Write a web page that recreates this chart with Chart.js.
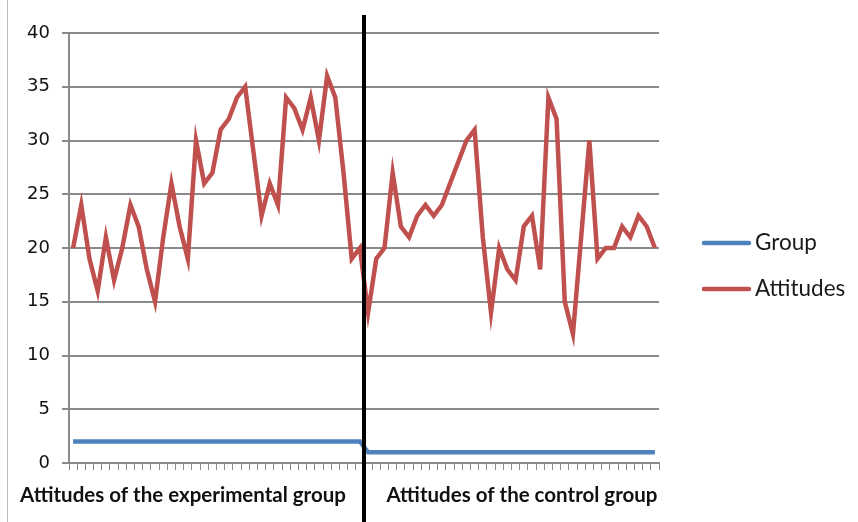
<!DOCTYPE html>
<html>
<head>
<meta charset="utf-8">
<script src="https://cdn.jsdelivr.net/npm/chart.js@4.4.1/dist/chart.umd.min.js"></script>
<style>
html, body { margin: 0; padding: 0; background: #fff; }
#wrap { width: 858px; height: 522px; position: relative; }
</style>
</head>
<body>
<div id="wrap"><canvas id="my-Attitudes-Chart" width="858" height="522"></canvas></div>
<script>
// attitude scores, one per student
const experimentalScores = [20, 24, 19, 16, 21, 17, 20, 24, 22, 18, 15, 21, 26, 22, 19, 30, 26, 27,
    31, 32, 34, 35, 29, 23, 26, 24, 34, 33, 31, 34, 30, 36, 34, 27, 19, 20];
const controlScores = [14, 19, 20, 27, 22, 21, 23, 24, 23, 24, 26, 28, 30, 31, 21, 14, 20, 18,
    17, 22, 23, 18, 34, 32, 15, 12, 21, 30, 19, 20, 20, 22, 21, 23, 22, 20];
const groupCodes = [2, 1]; // experimental = 2, control = 1
const groupTitles = ['Attitudes of the experimental group', 'Attitudes of the control group'];
const seriesNames = ['Group', 'Attitudes'];
const yTicks = [0, 5, 10, 15, 20, 25, 30, 35, 40];

const attitudes = experimentalScores.concat(controlScores);
const groupValues = experimentalScores.map(() => groupCodes[0]).concat(controlScores.map(() => groupCodes[1]));
const categories = attitudes.map((_, i) => String(i + 1));

const colors = {
    group: '#4f81bd',   // biru
    attitudes: '#c0504d' // merah
};

// garis pemisah, judul kelompok di bawah, legenda di kanan
const extrasPlugin = {
    id: 'extras',
    afterDraw(chart) {
        const ctx = chart.ctx;
        const x = chart.scales.x;
        const area = chart.chartArea;
        const nExp = experimentalScores.length;
        const sepX = (x.getPixelForValue(nExp - 1) + x.getPixelForValue(nExp)) / 2;

        ctx.save();
        // border kiri
        ctx.strokeStyle = '#bdbdbd';
        ctx.lineWidth = 1;
        ctx.beginPath();
        ctx.moveTo(7.5, 0);
        ctx.lineTo(7.5, 522);
        ctx.stroke();

        // judul kelompok
        ctx.fillStyle = '#111';
        ctx.font = 'bold 20.5px Lato';
        ctx.textAlign = 'center';
        ctx.textBaseline = 'middle';
        const expMid = (area.left - 51 + sepX - 16) / 2;
        const ctrlMid = (sepX + 23 + area.right - 2) / 2;
        ctx.fillText(groupTitles[0], expMid, 495);
        ctx.fillText(groupTitles[1], ctrlMid, 495);

        // garis hitam pemisah
        ctx.strokeStyle = '#000';
        ctx.lineWidth = 4;
        ctx.beginPath();
        ctx.moveTo(sepX, 15);
        ctx.lineTo(sepX, 522);
        ctx.stroke();

        // legenda
        const legendColors = [colors.group, colors.attitudes];
        const legendY = [243, 289];
        ctx.font = '22.5px Lato';
        ctx.textAlign = 'left';
        ctx.lineCap = 'round';
        seriesNames.forEach((name, i) => {
            ctx.strokeStyle = legendColors[i];
            ctx.lineWidth = 4.5;
            ctx.beginPath();
            ctx.moveTo(704, legendY[i]);
            ctx.lineTo(749, legendY[i]);
            ctx.stroke();
            ctx.fillStyle = '#1a1a1a';
            ctx.fillText(name, 755, legendY[i]);
        });
        ctx.restore();
    }
};

const ctx = document.getElementById('my-Attitudes-Chart').getContext('2d');
new Chart(ctx, {
    type: 'line',
    data: {
        labels: categories,
        datasets: [{
            label: seriesNames[0],
            data: groupValues,
            borderColor: colors.group,
            backgroundColor: colors.group,
            borderWidth: 4.5,
            pointRadius: 0,
            tension: 0
        }, {
            label: seriesNames[1],
            data: attitudes,
            borderColor: colors.attitudes,
            backgroundColor: colors.attitudes,
            borderWidth: 4.5,
            pointRadius: 0,
            tension: 0
        }]
    },
    options: {
        responsive: false,
        animation: false,
        devicePixelRatio: 1,
        layout: {
            padding: { left: 7, right: 199, top: 33, bottom: 0 }
        },
        plugins: {
            legend: { display: false },
            tooltip: { enabled: false }
        },
        scales: {
            x: {
                type: 'category',
                offset: true,
                grid: {
                    offset: true,
                    drawOnChartArea: false,
                    drawTicks: true,
                    tickLength: 7,
                    color: '#8a8a8a',
                    lineWidth: 1
                },
                border: { color: '#8a8a8a', width: 2 },
                ticks: { display: false, autoSkip: false },
                afterFit: (s) => { s.height = 59; }
            },
            y: {
                min: 0,
                max: 40,
                afterBuildTicks: (s) => { s.ticks = yTicks.map(v => ({ value: v })); },
                ticks: {
                    color: '#111',
                    font: { family: 'DejaVu Sans', size: 18 },
                    padding: 12
                },
                grid: {
                    color: '#8a8a8a',
                    lineWidth: 2,
                    tickLength: 7
                },
                border: { color: '#8a8a8a', width: 2 },
                afterFit: (s) => { s.width = 62; }
            }
        }
    },
    plugins: [extrasPlugin]
});
</script>
</body>
</html>
